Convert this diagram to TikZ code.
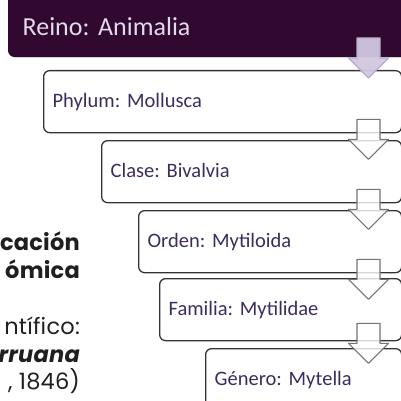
\documentclass[tikz,border=0pt]{standalone}
\usepackage{fontspec}
\setmainfont{Carlito}
\newfontfamily\gotica[LetterSpace=1]{Poppins}
\usetikzlibrary{calc,shadows}
\definecolor{reino}{RGB}{48,8,48}
\definecolor{lila}{RGB}{210,200,224}
\definecolor{lilaborde}{RGB}{185,170,205}
\definecolor{texto}{RGB}{60,45,95}
\definecolor{textoclaro}{RGB}{225,218,235}
\frenchspacing

\tikzset{
  caja/.style={draw=black!80, line width=1.3pt, rounded corners=6pt, fill=white,
    anchor=north west, minimum height=62pt, inner xsep=9pt, inner ysep=0pt,
    text width=#1, text height=11pt, text depth=0pt, align=left,
    font=\fontsize{20.5}{24}\selectfont, text=texto},
  flecha/.style={draw=black!55, line width=1.1pt, fill=white, fill opacity=0.8},
  gotica/.style={font=\gotica\fontsize{22.5}{28}\selectfont, text=black!88,
    anchor=base east, inner sep=0pt},
  titulo/.style={gotica, font=\gotica\bfseries\fontsize{22.5}{28}\selectfont},
  pics/bajada/.style={code={
    \draw[pic actions] (-11.5,0) -- (11.5,0) -- (11.5,20) -- (20,20) -- (0,40)
      -- (-20,20) -- (-11.5,20) -- cycle;
  }}
}

\begin{document}
\begin{tikzpicture}[x=1pt,y=-1pt,line join=round]
	\useasboundingbox (0,0) rectangle (400,401);
	% cajas de la clasificacion
	\node[caja=392pt, inner xsep=14pt, anchor=south west, fill=reino, draw=reino,
	  text=textoclaro, minimum height=70pt, text height=28pt,
	  font=\fontsize{26}{30}\selectfont,
	  drop shadow={opacity=0.35, shadow xshift=0.5pt, shadow yshift=-1.5pt}] (reino) at (8,57) {Reino: Animalia};
	\node[caja=340pt] (phylum) at (43,70) {Phylum: Mollusca};
	\node[caja=282pt] (clase) at (101,140) {Clase: Bivalvia};
	\node[caja=245pt] (orden) at (138,210) {Orden: Mytiloida};
	\node[caja=224pt] (familia) at (159,278) {Familia: Mytilidae};
	\node[caja=178pt] (genero) at (205,348) {Género: Mytella};
	% flechas
	\coordinate (eje) at (368.5,0);
	\pic[flecha, fill=lila, draw=lilaborde, fill opacity=0.95] at ($(reino.south -| eje)+(0,-19)$) {bajada};
	\pic[flecha] at ($(phylum.south -| eje)+(0,-14)$) {bajada};
	\pic[flecha] at ($(clase.south -| eje)+(0,-14)$) {bajada};
	\pic[flecha] at ($(orden.south -| eje)+(0,-14)$) {bajada};
	\pic[flecha] at ($(familia.south -| eje)+(0,-18)$) {bajada};
	% texto de la izquierda
	\node[titulo] (tit1) at (80,250) {cación};
	\node[titulo] (tit2) at (80,278) {ómica};
	\node[gotica] (nom1) at (80,334) {ntífico:};
	\node[titulo, font=\gotica\bfseries\itshape\fontsize{22.5}{28}\selectfont] (nom2) at (80,362) {rruana};
	\node[gotica] (nom3) at (80,389) {, 1846)};
\end{tikzpicture}
\end{document}
